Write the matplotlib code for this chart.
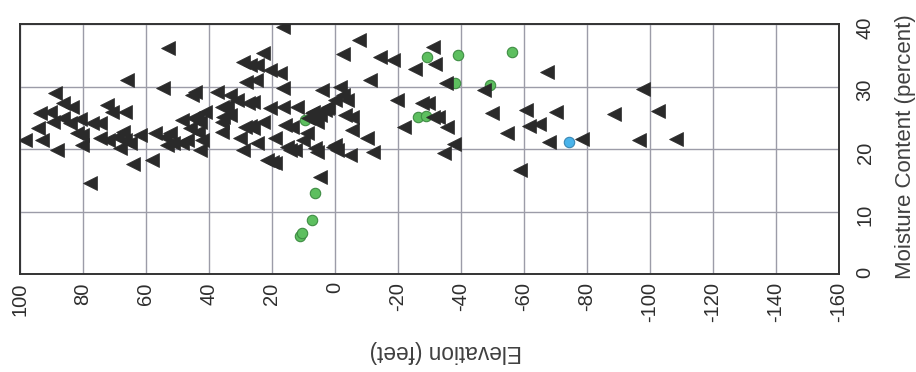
import matplotlib
matplotlib.use("Agg")
import matplotlib.pyplot as plt

plt.rcParams['font.family'] = ['Liberation Sans', 'DejaVu Sans']

# elevation (ft) / moisture content (%) pairs
tri_elev = [98.4, 94.2, 93.7, 93.1, 90.5, 89.4, 88.9, 88.4, 86.3, 86.3, 84.1, 83.6, 82.0, 81.0,
            80.4, 80.4, 77.8, 77.2, 74.6, 74.6, 72.5, 72.0, 70.9, 69.3, 68.3, 67.2, 66.7, 66.7,
            66.1, 65.1, 64.0, 61.9, 58.2, 57.1, 54.7, 54.0, 53.4, 52.9,
            52.4, 51.3, 48.7, 48.7, 47.1, 46.0, 45.5, 45.0, 44.5, 43.9, 43.4, 42.9, 42.9, 42.3,
            41.3, 37.6, 36.0, 36.0, 36.0, 35.4, 34.4, 33.3, 33.3, 31.2, 30.2, 29.1, 29.1, 28.6,
            28.3, 27.5, 27.0, 27.0, 25.9, 25.9, 25.1, 24.7, 24.9, 22.8, 22.8, 21.7, 20.6, 20.6,
            20.1, 19.0, 19.0, 17.5, 16.6, 16.4, 16.4, 15.9, 15.3, 14.3, 13.7, 12.7, 12.2, 10.1,
            9.0, 8.5, 7.4, 6.9, 6.3, 6.3, 5.8, 5.8, 4.8, 4.8, 4.2, 3.2, 2.6, 2.1, 0.5, 0.0, 0.0,
            -0.5, -1.6, -2.6, -2.6, -3.2, -3.7, -5.3, -4.8, -5.3, -7.6, -10.1, -11.1, -12.2,
            -14.3, -18.3, -19.6, -21.8, -25.4, -27.7, -29.6, -31.2, -31.7, -31.2, -32.8, -35.3,
            -35.4, -34.6, -37.7, -47.3, -49.7, -54.5, -58.6, -60.7, -61.5, -64.7, -67.4, -67.8,
            -70.0, -78.3, -88.6, -96.4, -97.7, -102.6, -108.3]
tri_moist = [21.5, 23.3, 25.8, 21.5, 25.9, 24.4, 29.0, 19.9, 27.4, 25.0, 24.2, 26.8, 22.5, 24.8,
             22.3, 20.7, 14.5, 24.2, 24.2, 21.7, 27.1, 21.5, 25.9, 22.0, 20.1, 22.8, 26.0, 21.5,
             31.0, 20.9, 17.6, 22.3, 18.2, 22.5, 29.8, 22.0, 20.7, 36.2,
             22.6, 20.9, 24.7, 20.9, 21.5, 23.3, 28.7, 24.9, 29.2, 25.2, 22.8, 24.4, 19.9, 21.5,
             26.0, 29.2, 26.8, 24.4, 22.8, 25.2, 26.9, 28.7, 25.5, 27.9, 21.7, 33.9, 19.9, 23.6,
             30.8, 27.4, 33.5, 23.7, 27.6, 23.3, 31.0, 33.5, 20.9, 35.4, 24.4, 18.3, 32.7, 26.5,
             18.0, 17.7, 21.7, 32.1, 39.5, 29.8, 26.8, 23.9, 20.4, 19.9, 23.6, 19.9, 26.8, 21.5,
             22.5, 24.9, 25.7, 26.0, 25.2, 20.1, 24.4, 19.6, 25.5, 15.6, 29.5, 26.3, 26.6, 26.8,
             20.4, 27.9, 20.7, 19.9, 30.0, 28.7, 35.2, 25.5, 27.9, 25.2, 19.1, 23.1, 37.5, 21.7,
             31.1, 19.6, 34.7, 34.3, 27.8, 23.6, 32.8, 27.3, 27.4, 36.4, 33.6, 25.2, 25.1, 30.5,
             23.6, 19.3, 20.8, 29.5, 25.7, 22.5, 16.7, 26.2, 23.7, 24.0, 32.4, 21.2, 25.9, 21.6,
             25.6, 21.4, 29.6, 26.1, 21.6]

green_elev = [11.1, 10.6, 7.4, 6.3, 9.5, -26.5, -28.9, -29.1, -38.1, -39.0, -49.3, -56.1]
green_moist = [6.1, 6.5, 8.7, 12.9, 24.7, 25.2, 25.3, 34.8, 30.6, 35.0, 30.2, 35.5]

blue_elev = [-74.4]
blue_moist = [21.2]

elev_ticks = list(range(100, -161, -20))
moist_ticks = [0, 10, 20, 30, 40]

fig = plt.figure(figsize=(9.16, 3.72), dpi=100)
ax = fig.add_axes([20 / 916, 98 / 372, 819 / 916, 250 / 372])

ax.plot(green_elev, green_moist, 'o', ms=7.5, mfc='#5dbf5f', mec='#3f8d44', mew=0.8, zorder=3)
ax.plot(blue_elev, blue_moist, 'o', ms=7.5, mfc='#49b3ea', mec='#3a87b4', mew=0.8, zorder=3)
ax.plot(tri_elev, tri_moist, '<', ms=9.5, mfc='#2a2a2a', mec='#2a2a2a', mew=0.5, zorder=4)

ax.set_xlim(100, -160)
ax.set_ylim(0, 40)
ax.set_xticks(elev_ticks)
ax.set_xticklabels([str(t) for t in elev_ticks])
ax.set_yticks(moist_ticks)
ax.yaxis.tick_right()
ax.grid(True, color='#9c9ca8', lw=1.0)
ax.set_axisbelow(True)
for s in ax.spines.values():
    s.set_color('#333333')
    s.set_linewidth(1.4)

ax.tick_params(axis='x', length=0, pad=6, labelrotation=90, labelsize=14.5, colors='#2e2e2e')
ax.tick_params(axis='y', length=0, pad=12, labelrotation=90, labelsize=14.5, colors='#2e2e2e')

fig.text(905 / 916, 1 - 147 / 372, 'Moisture Content (percent)', rotation=90,
         ha='center', va='center', fontsize=16, color='#404040')
fig.text(446 / 916, 1 - 352 / 372, 'Elevation (feet)', rotation=180,
         ha='center', va='center', fontsize=16.3, color='#404040')

fig.savefig('out.png', dpi=100)
